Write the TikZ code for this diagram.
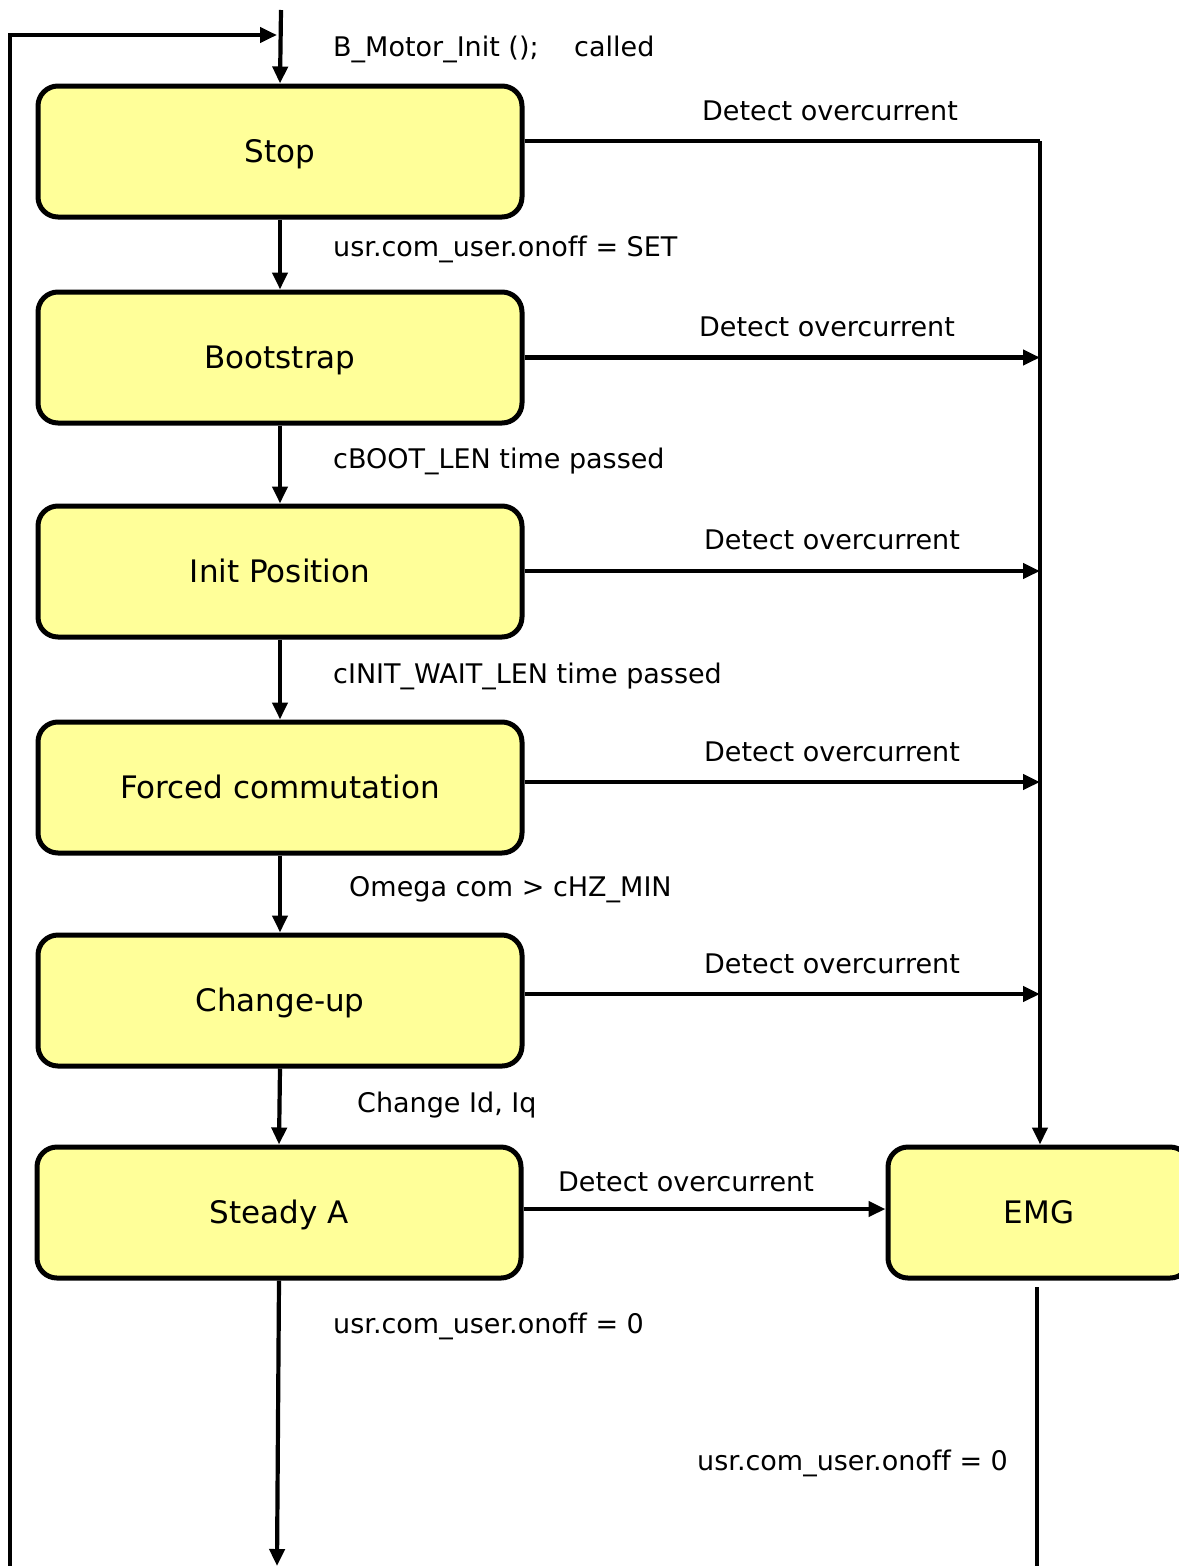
\documentclass[tikz,border=0pt]{standalone}
\usepackage{fontspec}
\setmainfont[Ligatures=NoCommon]{DejaVu Sans}
\usetikzlibrary{arrows.meta}
\definecolor{boxfill}{RGB}{255,255,153}
\begin{document}
\begin{tikzpicture}[x=1pt,y=-1pt,
  state/.style={draw=black,line width=5pt,fill=boxfill,rounded corners=20pt,
    minimum width=484pt,minimum height=131pt,inner sep=0pt,
    font=\fontsize{31}{36}\selectfont,text height=22.6pt,text depth=0pt},
  lbl/.style={anchor=base west,inner sep=0pt,font=\fontsize{27}{32}\selectfont},
  conn/.style={line width=4.2pt},
  arr/.style={conn,-{Triangle[length=17pt,width=15pt]}}]
\useasboundingbox (0,0) rectangle (1178,1566);
\fill[white] (0,0) rectangle (1178,1566);

\node[state] (stop)   at (280,151.5)  {Stop};
\node[state] (boot)   at (280,357.5)  {Bootstrap};
\node[state] (init)   at (280,571.5)  {Init Position};
\node[state] (forced) at (280,787.5)  {Forced commutation};
\node[state] (change) at (280,1000.5) {Change-up};
\node[state] (steady) at (279,1212.5) {Steady A};
\node[state,minimum width=302pt] (emg) at (1039,1212.5) {EMG};

% entry and feedback
\coordinate (top) at (281,10);
\coordinate (fbb) at (10,1570);
\coordinate (fbt) at (10,35);
\coordinate (fbe) at (277,35);
\draw[arr] (top) -- (stop.north);
\draw[arr] (fbb) -- (fbt) -- (fbe);

% main chain
\draw[arr] (stop.south) -- (boot.north);
\draw[arr] (boot.south) -- (init.north);
\draw[arr] (init.south) -- (forced.north);
\draw[arr] (forced.south) -- (change.north);
\draw[arr] (change.south) -- (steady.north);
\coordinate (sb) at (277,1566);
\draw[arr] (steady.south) -- (sb);

% overcurrent column
\coordinate (rc) at (1040,141);
\draw[conn] (stop.east |- rc) -- (rc);
\draw[arr] (rc) -- (rc |- emg.north);
\draw[arr] (boot.east) -- (boot.east -| rc);
\draw[arr] ([yshift=0.5pt]init.east) -- ([yshift=0.5pt]init.east -| rc);
\draw[arr] ([yshift=5.5pt]forced.east) -- ([yshift=5.5pt]forced.east -| rc);
\draw[arr] ([yshift=6.5pt]change.east) -- ([yshift=6.5pt]change.east -| rc);
\draw[arr] ([yshift=3.5pt]steady.east) -- ([yshift=3.5pt]steady.east -| emg.west);

% EMG exit
\coordinate (eb1) at (1037,1287);
\coordinate (eb2) at (1037,1570);
\draw[conn] (eb1) -- (eb2);

% labels
\node[lbl] (l0) at (333,56) {B\_Motor\_Init ();\quad\ called};
\node[lbl] (l1) at (333,256) {usr.com\_user.onoff = SET};
\node[lbl] (l2) at (333,468) {cBOOT\_LEN time passed};
\node[lbl] (l3) at (333,683) {cINIT\_WAIT\_LEN time passed};
\node[lbl] (l4) at (349,896) {Omega com > cHZ\_MIN};
\node[lbl] (l5) at (357,1112) {Change Id, Iq};
\node[lbl] (l6) at (333,1333) {usr.com\_user.onoff = 0};
\node[lbl] (l7) at (697,1470) {usr.com\_user.onoff = 0};
\node[lbl] (d1) at (702,120) {Detect overcurrent};
\node[lbl] (d2) at (699,336) {Detect overcurrent};
\node[lbl] (d3) at (704,549) {Detect overcurrent};
\node[lbl] (d4) at (704,761) {Detect overcurrent};
\node[lbl] (d5) at (704,973) {Detect overcurrent};
\node[lbl] (d6) at (558,1191) {Detect overcurrent};
\end{tikzpicture}
\end{document}
